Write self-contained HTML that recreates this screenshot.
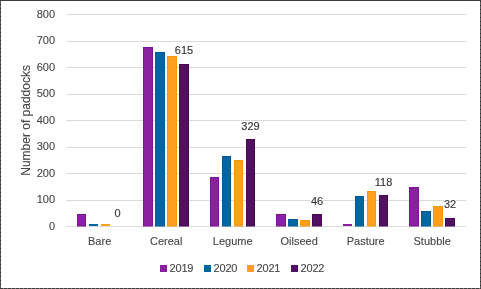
<!DOCTYPE html>
<html><head><meta charset="utf-8"><style>
html,body{margin:0;padding:0;background:#fff;}
body{width:481px;height:289px;overflow:hidden;position:relative;}
svg{position:absolute;left:0;top:0;will-change:transform;}
.ax{font-family:"Liberation Sans",sans-serif;font-size:11px;fill:#474747;stroke:#474747;stroke-width:0.12px;}
.dl{font-family:"Liberation Sans",sans-serif;font-size:11px;fill:#383838;stroke:#383838;stroke-width:0.15px;}
</style></head><body>
<svg width="481" height="289" viewBox="0 0 481 289">
<rect x="0" y="0" width="481" height="289" fill="#fff"/>
<rect x="66" y="14" width="400" height="1" fill="#D9D9D9"/>
<rect x="66" y="41" width="400" height="1" fill="#E3E3E3"/>
<line x1="67" y1="41.5" x2="466" y2="41.5" stroke="#CFCFCF" stroke-dasharray="1 1"/>
<rect x="66" y="67" width="400" height="1" fill="#E3E3E3"/>
<line x1="67" y1="67.5" x2="466" y2="67.5" stroke="#CFCFCF" stroke-dasharray="1 1"/>
<rect x="66" y="94" width="400" height="1" fill="#E3E3E3"/>
<line x1="67" y1="94.5" x2="466" y2="94.5" stroke="#CFCFCF" stroke-dasharray="1 1"/>
<rect x="66" y="120" width="400" height="1" fill="#E3E3E3"/>
<line x1="67" y1="120.5" x2="466" y2="120.5" stroke="#CFCFCF" stroke-dasharray="1 1"/>
<rect x="66" y="147" width="400" height="1" fill="#E3E3E3"/>
<line x1="67" y1="147.5" x2="466" y2="147.5" stroke="#CFCFCF" stroke-dasharray="1 1"/>
<rect x="66" y="173" width="400" height="1" fill="#E3E3E3"/>
<line x1="67" y1="173.5" x2="466" y2="173.5" stroke="#CFCFCF" stroke-dasharray="1 1"/>
<rect x="66" y="200" width="400" height="1" fill="#E3E3E3"/>
<line x1="67" y1="200.5" x2="466" y2="200.5" stroke="#CFCFCF" stroke-dasharray="1 1"/>
<rect x="66" y="226" width="400" height="1" fill="#E6E6E6"/>
<line x1="67" y1="226.5" x2="466" y2="226.5" stroke="#D6D6D6" stroke-dasharray="1 1"/>
<text x="55" y="17.5" text-anchor="end" class="ax">800</text>
<text x="55" y="43.5" text-anchor="end" class="ax">700</text>
<text x="55" y="70.5" text-anchor="end" class="ax">600</text>
<text x="55" y="96.5" text-anchor="end" class="ax">500</text>
<text x="55" y="123.5" text-anchor="end" class="ax">400</text>
<text x="55" y="149.5" text-anchor="end" class="ax">300</text>
<text x="55" y="176.5" text-anchor="end" class="ax">200</text>
<text x="55" y="202.5" text-anchor="end" class="ax">100</text>
<text x="55" y="229.5" text-anchor="end" class="ax">0</text>
<rect x="77" y="214" width="9" height="12" fill="#8A1FA0"/>
<rect x="77.5" y="214.5" width="8" height="11.5" fill="none" stroke="#7D1494" stroke-width="1"/>
<rect x="89" y="224" width="9" height="2" fill="#0066A1"/>
<rect x="101" y="224" width="9" height="2" fill="#FF9F1F"/>
<text x="117.5" y="217" text-anchor="middle" class="dl">0</text>
<text x="99.67" y="245" text-anchor="middle" class="ax">Bare</text>
<rect x="143" y="47" width="10" height="179" fill="#8A1FA0"/>
<rect x="143.5" y="47.5" width="9" height="178.5" fill="none" stroke="#7D1494" stroke-width="1"/>
<rect x="155" y="52" width="10" height="174" fill="#0066A1"/>
<rect x="155.5" y="52.5" width="9" height="173.5" fill="none" stroke="#005A95" stroke-width="1"/>
<rect x="167" y="56" width="10" height="170" fill="#FF9F1F"/>
<rect x="167.5" y="56.5" width="9" height="169.5" fill="none" stroke="#F59512" stroke-width="1"/>
<rect x="179" y="64" width="10" height="162" fill="#521060"/>
<rect x="179.5" y="64.5" width="9" height="161.5" fill="none" stroke="#470A55" stroke-width="1"/>
<text x="184.0" y="54.03" text-anchor="middle" class="dl">615</text>
<text x="166.17" y="245" text-anchor="middle" class="ax">Cereal</text>
<rect x="210" y="177" width="9" height="49" fill="#8A1FA0"/>
<rect x="210.5" y="177.5" width="8" height="48.5" fill="none" stroke="#7D1494" stroke-width="1"/>
<rect x="222" y="156" width="9" height="70" fill="#0066A1"/>
<rect x="222.5" y="156.5" width="8" height="69.5" fill="none" stroke="#005A95" stroke-width="1"/>
<rect x="234" y="160" width="9" height="66" fill="#FF9F1F"/>
<rect x="234.5" y="160.5" width="8" height="65.5" fill="none" stroke="#F59512" stroke-width="1"/>
<rect x="246" y="139" width="9" height="87" fill="#521060"/>
<rect x="246.5" y="139.5" width="8" height="86.5" fill="none" stroke="#470A55" stroke-width="1"/>
<text x="250.5" y="129.8" text-anchor="middle" class="dl">329</text>
<text x="232.67" y="245" text-anchor="middle" class="ax">Legume</text>
<rect x="276" y="214" width="10" height="12" fill="#8A1FA0"/>
<rect x="276.5" y="214.5" width="9" height="11.5" fill="none" stroke="#7D1494" stroke-width="1"/>
<rect x="288" y="219" width="10" height="7" fill="#0066A1"/>
<rect x="288.5" y="219.5" width="9" height="6.5" fill="none" stroke="#005A95" stroke-width="1"/>
<rect x="300" y="220" width="10" height="6" fill="#FF9F1F"/>
<rect x="300.5" y="220.5" width="9" height="5.5" fill="none" stroke="#F59512" stroke-width="1"/>
<rect x="312" y="214" width="10" height="12" fill="#521060"/>
<rect x="312.5" y="214.5" width="9" height="11.5" fill="none" stroke="#470A55" stroke-width="1"/>
<rect x="311" y="199" width="12" height="3" fill="#fff"/>
<text x="317.0" y="204.8" text-anchor="middle" class="dl">46</text>
<text x="299.17" y="245" text-anchor="middle" class="ax">Oilseed</text>
<rect x="343" y="224" width="9" height="2" fill="#8A1FA0"/>
<rect x="355" y="196" width="9" height="30" fill="#0066A1"/>
<rect x="355.5" y="196.5" width="8" height="29.5" fill="none" stroke="#005A95" stroke-width="1"/>
<rect x="367" y="191" width="9" height="35" fill="#FF9F1F"/>
<rect x="367.5" y="191.5" width="8" height="34.5" fill="none" stroke="#F59512" stroke-width="1"/>
<rect x="379" y="195" width="9" height="31" fill="#521060"/>
<rect x="379.5" y="195.5" width="8" height="30.5" fill="none" stroke="#470A55" stroke-width="1"/>
<text x="383.5" y="185.7" text-anchor="middle" class="dl">118</text>
<text x="365.67" y="245" text-anchor="middle" class="ax">Pasture</text>
<rect x="409" y="187" width="10" height="39" fill="#8A1FA0"/>
<rect x="409.5" y="187.5" width="9" height="38.5" fill="none" stroke="#7D1494" stroke-width="1"/>
<rect x="421" y="211" width="10" height="15" fill="#0066A1"/>
<rect x="421.5" y="211.5" width="9" height="14.5" fill="none" stroke="#005A95" stroke-width="1"/>
<rect x="433" y="206" width="10" height="20" fill="#FF9F1F"/>
<rect x="433.5" y="206.5" width="9" height="19.5" fill="none" stroke="#F59512" stroke-width="1"/>
<rect x="445" y="218" width="10" height="8" fill="#521060"/>
<rect x="445.5" y="218.5" width="9" height="7.5" fill="none" stroke="#470A55" stroke-width="1"/>
<rect x="444" y="199" width="12" height="3" fill="#fff"/>
<text x="450.0" y="207.5" text-anchor="middle" class="dl">32</text>
<text x="432.17" y="245" text-anchor="middle" class="ax">Stubble</text>
<rect x="160" y="265" width="7" height="7" fill="#8A1FA0"/>
<text x="169.6" y="271.5" class="ax" letter-spacing="-0.2">2019</text>
<rect x="204" y="265" width="7" height="7" fill="#0066A1"/>
<text x="213.6" y="271.5" class="ax" letter-spacing="-0.2">2020</text>
<rect x="247" y="265" width="7" height="7" fill="#FF9F1F"/>
<text x="256.6" y="271.5" class="ax" letter-spacing="-0.2">2021</text>
<rect x="291" y="265" width="7" height="7" fill="#521060"/>
<text x="300.6" y="271.5" class="ax" letter-spacing="-0.2">2022</text>
<text transform="translate(30,120.4) rotate(-90)" text-anchor="middle" class="ax" style="font-size:12px">Number of paddocks</text>
<rect x="0" y="0" width="481" height="1" fill="#3C3C3C"/>
<rect x="0" y="0" width="1" height="289" fill="#5A5A5A"/>
<line x1="0.5" y1="0" x2="0.5" y2="289" stroke="#2E2E2E" stroke-dasharray="1 3"/>
<rect x="480" y="0" width="1" height="289" fill="#5A5A5A"/>
<line x1="480.5" y1="1" x2="480.5" y2="289" stroke="#2E2E2E" stroke-dasharray="1 3"/>
<rect x="0" y="288" width="481" height="1" fill="#3C3C3C"/>
<line x1="3" y1="288.5" x2="481" y2="288.5" stroke="#7A7A7A" stroke-dasharray="1 3"/>
<rect x="0" y="0" width="481" height="1" fill="#3C3C3C"/>
</svg>
</body></html>
